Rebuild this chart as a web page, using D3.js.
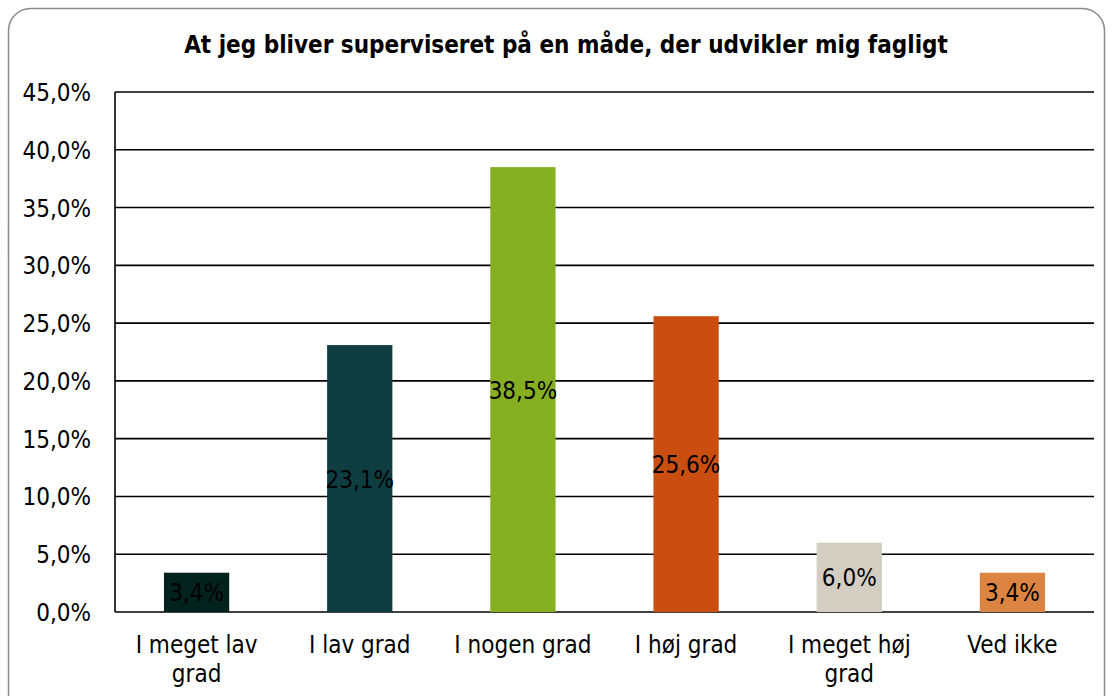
<!DOCTYPE html>
<html>
<head>
<meta charset="utf-8">
<script src="https://cdn.jsdelivr.net/npm/d3@7"></script>
<style>
  body { margin: 0; background: #fff; }
  svg { display: block; }
  text { font-family: "DejaVu Sans Condensed", "DejaVu Sans", sans-serif; fill: #000; }
</style>
</head>
<body>
<svg id="chart" width="1112" height="696"></svg>
<script>
// chart data
var categories = ["I meget lav grad", "I lav grad", "I nogen grad", "I høj grad", "I meget høj grad", "Ved ikke"];
var categoryLines = [["I meget lav", "grad"], ["I lav grad"], ["I nogen grad"], ["I høj grad"], ["I meget høj", "grad"], ["Ved ikke"]];
var values = [3.4, 23.1, 38.5, 25.6, 6.0, 3.4];
var barColors = ["#01221d", "#0e3d42", "#85ae21", "#cb4e11", "#d4cec2", "#dc8441"];
var yTicks = [0, 5, 10, 15, 20, 25, 30, 35, 40, 45];
var title = "At jeg bliver superviseret på en måde, der udvikler mig fagligt";

var svg = d3.select("#chart");
var margin = {top: 92, left: 115, right: 1094, bottom: 612};

// frame
svg.append("rect")
    .attr("x", 8.5).attr("y", 8.5)
    .attr("width", 1096).attr("height", 720)
    .attr("rx", 22).attr("ry", 22)
    .attr("fill", "#fff")
    .attr("stroke", "#8a8a8a")
    .attr("stroke-width", 1.5);

svg.append("text")
    .attr("x", 566).attr("y", 53)
    .attr("text-anchor", "middle")
    .style("font-size", "24px")
    .style("font-weight", "bold")
    .text(title);

var x = d3.scaleBand()
    .domain(categories)
    .range([margin.left, margin.right])
    .paddingInner(0.6)
    .paddingOuter(0.3);

var y = d3.scaleLinear()
    .domain([0, 45])
    .range([margin.bottom, margin.top]);

// gridlines
svg.append("g")
    .selectAll("line")
    .data(yTicks)
    .enter().append("line")
    .attr("x1", margin.left).attr("x2", margin.right)
    .attr("y1", function (d) { return y(d); })
    .attr("y2", function (d) { return y(d); })
    .attr("stroke", "#000")
    .attr("stroke-width", 1.6);

// y axis line
svg.append("line")
    .attr("x1", margin.left).attr("x2", margin.left)
    .attr("y1", margin.top).attr("y2", margin.bottom)
    .attr("stroke", "#000").attr("stroke-width", 1.6);

// y tick labels
svg.append("g")
    .selectAll("text")
    .data(yTicks)
    .enter().append("text")
    .attr("x", 91)
    .attr("y", function (d) { return y(d) + 9; })
    .attr("text-anchor", "end")
    .style("font-size", "24px")
    .text(function (d) { return d.toFixed(1).replace(".", ",") + "%"; });

// bars
var bars = svg.append("g")
    .selectAll("g")
    .data(values)
    .enter().append("g");

bars.append("rect")
    .attr("x", function (d, i) { return x(categories[i]); })
    .attr("y", function (d) { return y(d); })
    .attr("width", x.bandwidth())
    .attr("height", function (d) { return y(0) - y(d); })
    .attr("fill", function (d, i) { return barColors[i]; });

bars.append("text")
    .attr("x", function (d, i) { return x(categories[i]) + x.bandwidth() / 2; })
    .attr("y", function (d) { return (y(d) + y(0)) / 2 + 9; })
    .attr("text-anchor", "middle")
    .style("font-size", "24px")
    .text(function (d) { return d.toFixed(1).replace(".", ",") + "%"; });

// category labels
var cats = svg.append("g")
    .selectAll("text")
    .data(categoryLines)
    .enter().append("text")
    .attr("text-anchor", "middle")
    .attr("transform", function (d, i) {
        return "translate(" + (x(categories[i]) + x.bandwidth() / 2) + ",653)";
    })
    .style("font-size", "24px");

cats.selectAll("tspan")
    .data(function (d) { return d; })
    .enter().append("tspan")
    .attr("x", 0)
    .attr("dy", function (d, i) { return i === 0 ? 0 : 29; })
    .text(function (d) { return d; });
</script>
</body>
</html>
